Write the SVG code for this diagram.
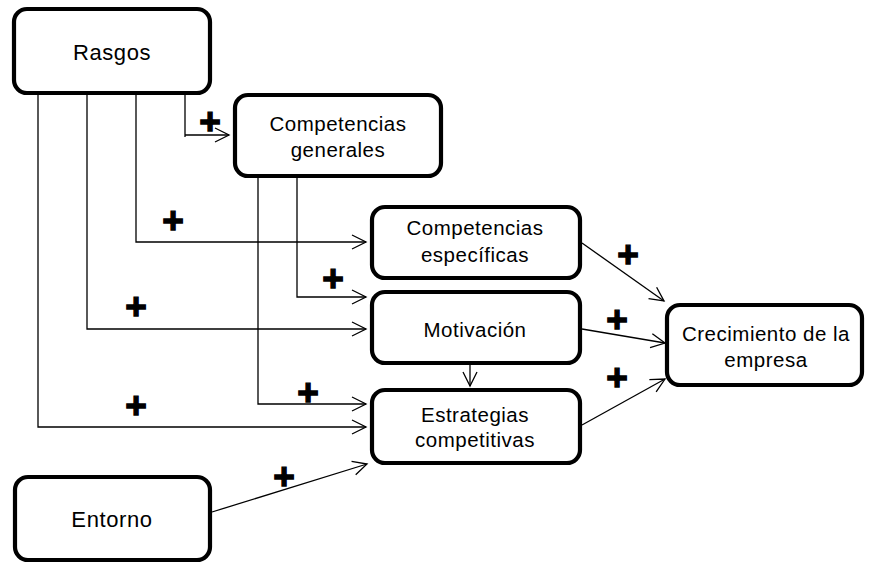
<svg xmlns="http://www.w3.org/2000/svg" width="869" height="564" viewBox="0 0 869 564">
  <style>
    .box { fill: #fff; stroke: #000; stroke-width: 4.2; }
    .lbl { font-family: "Liberation Sans", Arial, sans-serif; font-size: 20.5px; letter-spacing: 0.5px; fill: #000; text-anchor: middle; }
    .big { font-size: 22px; letter-spacing: 0.6px; }
    .wire { fill: none; stroke: #000; stroke-width: 1.3; }
    .plus { font-family: "Liberation Sans", Arial, sans-serif; font-size: 37px; font-weight: bold; fill: #000; stroke: #000; stroke-width: 1.3; text-anchor: middle; }
  </style>
  <defs>
    <marker id="arr" markerUnits="userSpaceOnUse" markerWidth="18" markerHeight="18" viewBox="0 0 18 18" refX="15" refY="8" orient="auto">
      <path d="M1,1 L15,8 L1,15" fill="none" stroke="#000" stroke-width="1.3"/>
    </marker>
  </defs>

  <rect width="869" height="564" fill="#fff"/>

  <!-- connectors -->
  <g id="connectors">
    <path class="wire" d="M185,94 V137 M185,135 H229" marker-end="url(#arr)"/>
    <path class="wire" d="M136,94 V242 H366" marker-end="url(#arr)"/>
    <path class="wire" d="M87,94 V329 H366" marker-end="url(#arr)"/>
    <path class="wire" d="M38,94 V427 H366" marker-end="url(#arr)"/>
    <path class="wire" d="M297,178 V297 H366" marker-end="url(#arr)"/>
    <path class="wire" d="M258,178 V404 H366" marker-end="url(#arr)"/>
    <path class="wire" d="M212,512 L367,464" marker-end="url(#arr)"/>
    <path class="wire" d="M470,365 V386" marker-end="url(#arr)"/>
    <path class="wire" d="M582,243 L664,301" marker-end="url(#arr)"/>
    <path class="wire" d="M582,329 L665,343" marker-end="url(#arr)"/>
    <path class="wire" d="M582,425 L665,379" marker-end="url(#arr)"/>
  </g>

  <!-- signs on the links -->
  <g id="signs">
    <text class="plus" x="210" y="134">+</text>
    <text class="plus" x="173" y="233">+</text>
    <text class="plus" x="136" y="319">+</text>
    <text class="plus" x="136" y="418">+</text>
    <text class="plus" x="333" y="291">+</text>
    <text class="plus" x="308" y="405">+</text>
    <text class="plus" x="284" y="489">+</text>
    <text class="plus" x="628" y="267">+</text>
    <text class="plus" x="617" y="332">+</text>
    <text class="plus" x="617" y="390">+</text>
  </g>

  <g id="rasgos">
    <rect class="box" x="14" y="9" width="196" height="84" rx="13"/>
    <text class="lbl big" x="112" y="60">Rasgos</text>
  </g>

  <g id="competencias-generales">
    <rect class="box" x="235" y="95" width="206" height="81" rx="13"/>
    <text class="lbl" x="338" y="131">Competencias</text>
    <text class="lbl" x="338" y="157">generales</text>
  </g>

  <g id="competencias-especificas">
    <rect class="box" x="372" y="207" width="208" height="71" rx="13"/>
    <text class="lbl" x="475" y="235">Competencias</text>
    <text class="lbl" x="475" y="262">específicas</text>
  </g>

  <g id="motivacion">
    <rect class="box" x="372" y="292" width="208" height="71" rx="13"/>
    <text class="lbl" x="475" y="337">Motivación</text>
  </g>

  <g id="estrategias">
    <rect class="box" x="372" y="390" width="208" height="73" rx="13"/>
    <text class="lbl" x="475" y="422">Estrategias</text>
    <text class="lbl" x="475" y="447">competitivas</text>
  </g>

  <g id="crecimiento">
    <rect class="box" x="667" y="305" width="195" height="80" rx="13"/>
    <text class="lbl" x="766" y="341">Crecimiento de la</text>
    <text class="lbl" x="766" y="367">empresa</text>
  </g>

  <g id="entorno">
    <rect class="box" x="15" y="477" width="195" height="83" rx="13"/>
    <text class="lbl big" x="112" y="527">Entorno</text>
  </g>
</svg>
